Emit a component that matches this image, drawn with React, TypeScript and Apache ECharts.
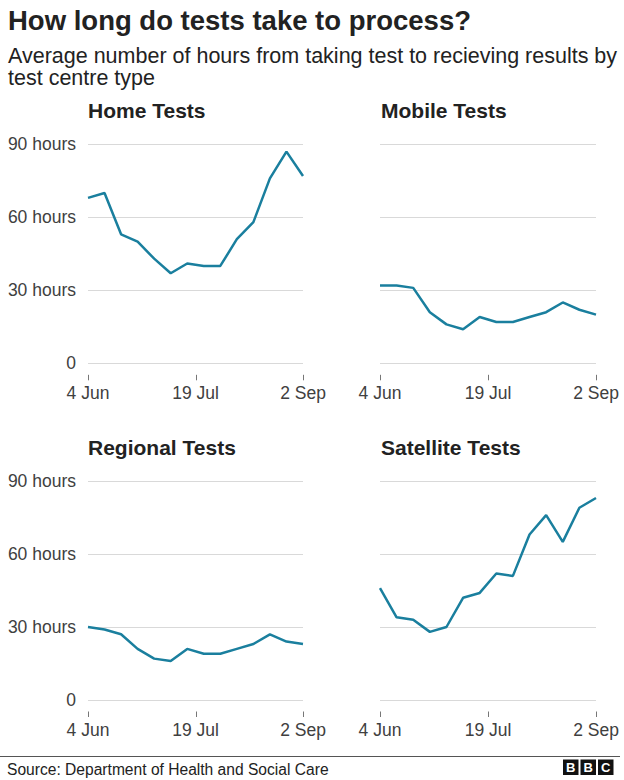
import React, { useEffect, useRef } from "react";
import * as echarts from "echarts";

const weekIndex = [0, 1, 2, 3, 4, 5, 6, 7, 8, 9, 10, 11, 12, 13];
const homeTests = [68, 70, 53, 50, 43, 37, 41, 40, 40, 51, 58, 76, 87, 77];
const mobileTests = [32, 32, 31, 21, 16, 14, 19, 17, 17, 19, 21, 25, 22, 20];
const regionalTests = [30, 29, 27, 21, 17, 16, 21, 19, 19, 21, 23, 27, 24, 23];
const satelliteTests = [46, 34, 33, 28, 30, 42, 44, 52, 51, 68, 76, 65, 79, 83];

const panelNames = ["Home Tests", "Mobile Tests", "Regional Tests", "Satellite Tests"];
const xTickValues = [0, 6.5, 13];
const xTickLabels = ["4 Jun", "19 Jul", "2 Sep"];
const yTickValues = [0, 30, 60, 90];
const yTickLabels = ["0", "30 hours", "60 hours", "90 hours"];

const FONT = "'Liberation Sans', Arial, Helvetica, sans-serif";
const LINE_COLOR = "#1a7f9e";
const GRID_COLOR = "#d9d9d9";
const LABEL_COLOR = "#404040";

export default function App() {
  const ref = useRef<HTMLDivElement>(null);

  useEffect(() => {
    if (!ref.current) return;
    const chart = echarts.init(ref.current, undefined, { renderer: "svg" });
    const seriesData = [homeTests, mobileTests, regionalTests, satelliteTests];
    const grids = [
      { left: 88, top: 144.3, width: 215, height: 219 },
      { left: 380, top: 144.3, width: 216, height: 219 },
      { left: 88, top: 481, width: 215, height: 219 },
      { left: 380, top: 481, width: 216, height: 219 },
    ];
    const titlePos = [
      { x: 88, y: 110 },
      { x: 381, y: 110 },
      { x: 88, y: 447 },
      { x: 381, y: 447 },
    ];

    const xAxes = grids.map((_, i) => ({
      type: "value",
      gridIndex: i,
      min: 0,
      max: 13,
      interval: 6.5,
      offset: 11.5,
      axisLine: { show: false },
      axisTick: { show: false },
      splitLine: { show: false },
      axisLabel: {
        show: true,
        margin: 9,
        color: LABEL_COLOR,
        fontFamily: FONT,
        fontSize: 17.5,
        showMinLabel: true,
        showMaxLabel: true,
        formatter: (v: number) => {
          const k = xTickValues.indexOf(v);
          return k >= 0 ? xTickLabels[k] : "";
        },
      },
    }));

    const yAxes = grids.map((_, i) => ({
      type: "value",
      gridIndex: i,
      min: 0,
      max: 90,
      interval: 30,
      axisLine: { show: false },
      axisTick: { show: false },
      splitLine: { show: true, lineStyle: { color: GRID_COLOR, width: 1 } },
      axisLabel: {
        show: i % 2 === 0,
        margin: 12,
        color: LABEL_COLOR,
        fontFamily: FONT,
        fontSize: 17.5,
        formatter: (v: number) => {
          const k = yTickValues.indexOf(v);
          return k >= 0 ? yTickLabels[k] : "";
        },
      },
    }));

    const lineSeries = seriesData.map((vals, i) => ({
      type: "line",
      xAxisIndex: i,
      yAxisIndex: i,
      data: weekIndex.map((w, j) => [w, vals[j]]),
      symbol: "none",
      lineStyle: { color: LINE_COLOR, width: 2.5 },
      itemStyle: { color: LINE_COLOR },
      z: 3,
    }));

    const tickSeries = grids.map((_, i) => ({
      type: "custom",
      xAxisIndex: i,
      yAxisIndex: i,
      clip: false,
      silent: true,
      data: xTickValues.map((v) => [v, 0]),
      renderItem: (_params: any, api: any) => {
        const p = api.coord([api.value(0), api.value(1)]);
        const x = Math.round(p[0]) + 0.5;
        return {
          type: "line",
          shape: { x1: x, y1: p[1] + 11.5, x2: x, y2: p[1] + 17 },
          style: { stroke: "#777777", lineWidth: 1 },
        };
      },
    }));

    const graphics: any[] = [
      {
        type: "text",
        x: 8,
        y: 20,
        style: {
          text: "How long do tests take to process?",
          font: `bold 27.5px ${FONT}`,
          fill: "#222222",
          verticalAlign: "middle",
        },
      },
      {
        type: "text",
        x: 8,
        y: 56,
        style: {
          text: "Average number of hours from taking test to recieving results by",
          font: `21.5px ${FONT}`,
          fill: "#222222",
          verticalAlign: "middle",
        },
      },
      {
        type: "text",
        x: 8,
        y: 78,
        style: {
          text: "test centre type",
          font: `21.5px ${FONT}`,
          fill: "#222222",
          verticalAlign: "middle",
        },
      },
      ...panelNames.map((name, i) => ({
        type: "text",
        x: titlePos[i].x,
        y: titlePos[i].y,
        style: {
          text: name,
          font: `bold 21px ${FONT}`,
          fill: "#222222",
          verticalAlign: "middle",
        },
      })),
      {
        type: "line",
        shape: { x1: 0, y1: 756.5, x2: 620, y2: 756.5 },
        style: { stroke: "#555555", lineWidth: 1 },
      },
      {
        type: "text",
        x: 7,
        y: 769.5,
        style: {
          text: "Source: Department of Health and Social Care",
          font: `15.6px ${FONT}`,
          fill: "#222222",
          verticalAlign: "middle",
        },
      },
    ];

    const bbc = ["B", "B", "C"];
    const bx = [563, 580.5, 598];
    bbc.forEach((ch, i) => {
      graphics.push({
        type: "rect",
        shape: { x: bx[i], y: 759.5, width: 15.5, height: 15.5 },
        style: { fill: "#111111" },
      });
      graphics.push({
        type: "text",
        x: bx[i] + 7.75,
        y: 767.5,
        style: {
          text: ch,
          font: `bold 13px ${FONT}`,
          fill: "#ffffff",
          align: "center",
          verticalAlign: "middle",
        },
      });
    });

    chart.setOption({
      animation: false,
      backgroundColor: "#ffffff",
      grid: grids,
      xAxis: xAxes,
      yAxis: yAxes,
      series: [...lineSeries, ...tickSeries],
      graphic: graphics,
    } as any);

    return () => chart.dispose();
  }, []);

  return (
    <div
      ref={ref}
      style={{ position: "absolute", left: 0, top: 0, width: 624, height: 780 }}
    />
  );
}
